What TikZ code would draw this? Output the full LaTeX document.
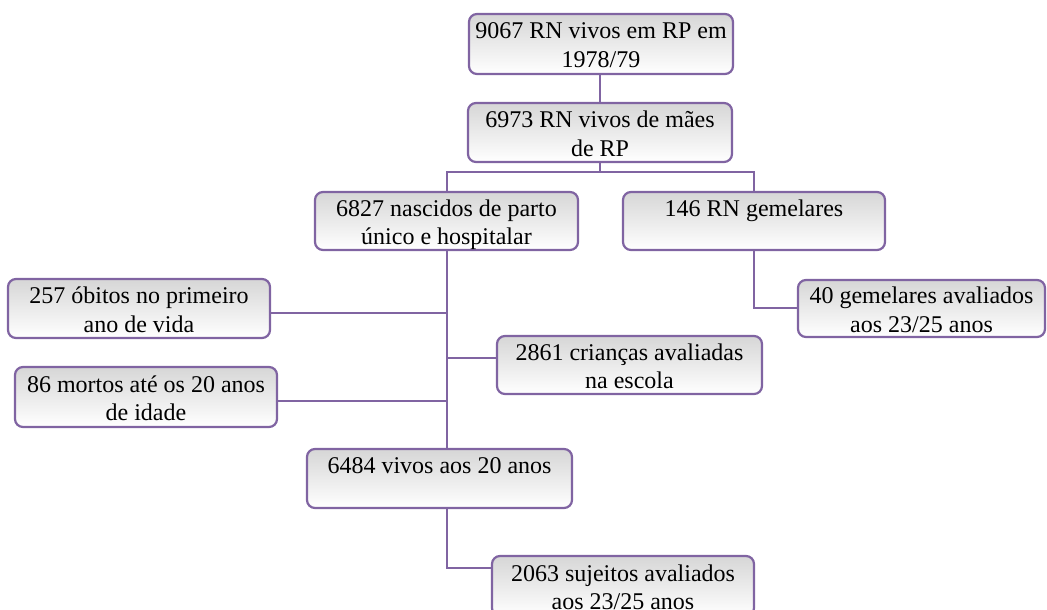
\documentclass[tikz,border=0pt]{standalone}
\usepackage{fontspec}
\setmainfont{Liberation Serif}
\definecolor{lineviolet}{HTML}{8064A2}
\begin{document}
\begin{tikzpicture}[x=1pt,y=-1pt,
  box/.style={draw=lineviolet, line width=2.2pt, rounded corners=8pt,
    top color=black!16, bottom color=white, inner sep=0pt, align=center,
    text height=50pt, text depth=3pt,
    font=\fontsize{24}{28.5}\selectfont},
  conn/.style={draw=lineviolet, line width=2.5pt}]
\useasboundingbox (0,0) rectangle (1047,610);
\clip (0,0) rectangle (1047,610);
\node[box, minimum width=264, minimum height=60] (b1) at (601,44) {9067 RN vivos em RP em\\1978/79};
\node[box, minimum width=264, minimum height=59] (b2) at (600,132.5) {6973 RN vivos de mães\\de RP};
\node[box, minimum width=263, minimum height=58] (b3) at (446.5,221) {6827 nascidos de parto\\único e hospitalar};
\node[box, minimum width=262, minimum height=58] (b4) at (754,221) {146 RN gemelares\\\strut};
\node[box, minimum width=247, minimum height=57] (b5) at (921.5,308.5) {40 gemelares avaliados\\aos 23/25 anos};
\node[box, minimum width=262, minimum height=59] (b6) at (139,308.5) {257 óbitos no primeiro\\ano de vida};
\node[box, minimum width=265, minimum height=58] (b7) at (629.5,365) {2861 crianças avaliadas\\na escola};
\node[box, minimum width=262, minimum height=60] (b8) at (146,397) {86 mortos até os 20 anos\\de idade};
\node[box, minimum width=265, minimum height=59] (b9) at (439.5,478.5) {6484 vivos aos 20 anos\\\strut};
\node[box, minimum width=262, minimum height=60] (b10) at (623,586) {2063 sujeitos avaliados\\aos 23/25 anos};
\coordinate (split) at (600,172);
\coordinate (sl) at (447,172);
\coordinate (sr) at (754,172);
\coordinate (j1) at (447,313);
\coordinate (j2) at (447,358);
\coordinate (j3) at (447,401);
\coordinate (t1) at (754,308);
\coordinate (t2) at (447,568);
\draw[conn] (b1.south -| split) -- (b2.north -| split);
\draw[conn] (b2.south -| split) -- (split);
\draw[conn] (b3.north -| sl) -- (sl) -- (sr) -- (b4.north -| sr);
\draw[conn] (b3.south -| sl) -- (b9.north -| sl);
\draw[conn] (b6.east |- j1) -- (j1);
\draw[conn] (j2) -- (b7.west |- j2);
\draw[conn] (b8.east |- j3) -- (j3);
\draw[conn] (b4.south -| t1) -- (t1) -- (b5.west |- t1);
\draw[conn] (b9.south -| t2) -- (t2) -- (b10.west |- t2);
\end{tikzpicture}
\end{document}
